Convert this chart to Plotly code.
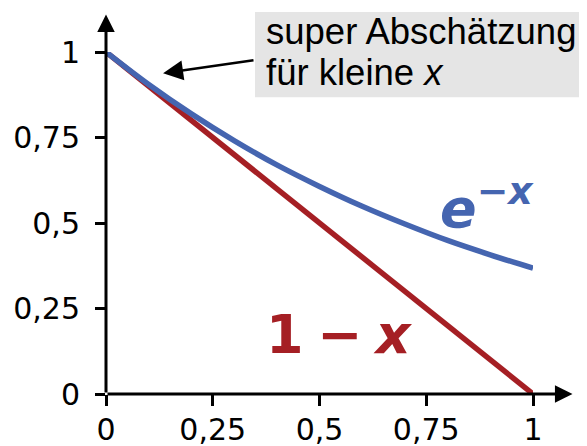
import plotly.graph_objects as go

# values
x_exp = [0, 0.1, 0.2, 0.3, 0.4, 0.5, 0.6, 0.7, 0.8, 0.9, 1.0]
y_exp = [1.0, 0.905, 0.819, 0.741, 0.670, 0.607, 0.549, 0.497, 0.449, 0.407, 0.368]
x_lin = [0, 1]
y_lin = [1, 0]
tick_vals = [0, 0.25, 0.5, 0.75, 1]
tick_text = ["0", "0,25", "0,5", "0,75", "1"]

RED = "#a51f24"
BLUE = "#4565b0"
TICKFONT = dict(family="DejaVu Sans", size=30, color="black")

fig = go.Figure()
fig.add_trace(go.Scatter(x=x_lin, y=y_lin, mode="lines",
                         line=dict(color=RED, width=5.5), cliponaxis=False,
                         hoverinfo="skip"))
fig.add_trace(go.Scatter(x=x_exp, y=y_exp, mode="lines",
                         line=dict(color=BLUE, width=5.5, shape="spline"),
                         cliponaxis=False, hoverinfo="skip"))

axis_common = dict(range=[0, 1], showgrid=False, zeroline=False, showline=False,
                   ticks="outside", tickwidth=3, tickcolor="black",
                   tickvals=tick_vals, ticktext=tick_text, tickfont=TICKFONT,
                   fixedrange=True, automargin=False)
fig.update_xaxes(**axis_common, ticklen=11, ticklabelstandoff=-2)
fig.update_yaxes(**axis_common, ticklen=10, ticklabelstandoff=9)

# gray box behind the remark
fig.add_shape(type="rect", xref="paper", yref="paper",
              x0=0.349, x1=1.126, y0=0.868, y1=1.117,
              fillcolor="#e5e5e5", line=dict(width=0), layer="below")

annotations = [
    # axis arrows
    dict(x=1.0925, y=0, xref="paper", yref="paper", ax=-466.5, ay=0,
         showarrow=True, arrowhead=2, arrowsize=1.17, arrowwidth=3,
         arrowcolor="black", text=""),
    dict(x=0, y=1.1096, xref="paper", yref="paper", ax=0, ay=379.5,
         showarrow=True, arrowhead=2, arrowsize=1.17, arrowwidth=3,
         arrowcolor="black", text=""),
    # remark arrow
    dict(x=0.1337, y=0.9377, xref="paper", yref="paper", ax=91.9, ay=-13.3,
         showarrow=True, arrowhead=2, arrowsize=1.6, arrowwidth=2.5,
         arrowcolor="black", text=""),
    # remark text
    dict(x=0.370, y=1.0585, xref="paper", yref="paper", xanchor="left",
         yanchor="middle", showarrow=False, text="super Abschätzung",
         font=dict(family="Liberation Sans", size=36.5, color="black")),
    dict(x=0.370, y=0.9415, xref="paper", yref="paper", xanchor="left",
         yanchor="middle", showarrow=False, text="für kleine <i>x</i>",
         font=dict(family="Liberation Sans", size=36.5, color="black")),
    # curve labels
    dict(x=0.548, y=0.174, xref="paper", yref="paper", showarrow=False,
         xanchor="center", yanchor="middle",
         text="<b>1\u2005−\u2005<i>x</i></b>",
         font=dict(family="DejaVu Sans", size=54, color=RED)),
    dict(x=0.893, y=0.553, xref="paper", yref="paper", showarrow=False,
         xanchor="center", yanchor="middle",
         text="<b><i>e</i><sup>−<i>x</i></sup></b>",
         font=dict(family="DejaVu Sans", size=54, color=BLUE)),
]
fig.update_layout(annotations=annotations)

# page body adds an 8px offset, so the figure is 8px smaller on each axis
fig.update_layout(width=579, height=438,
                  margin=dict(l=98, r=54, t=44, b=52),
                  paper_bgcolor="white", plot_bgcolor="white",
                  showlegend=False)

fig.write_html("out.html", config={"displayModeBar": False})
